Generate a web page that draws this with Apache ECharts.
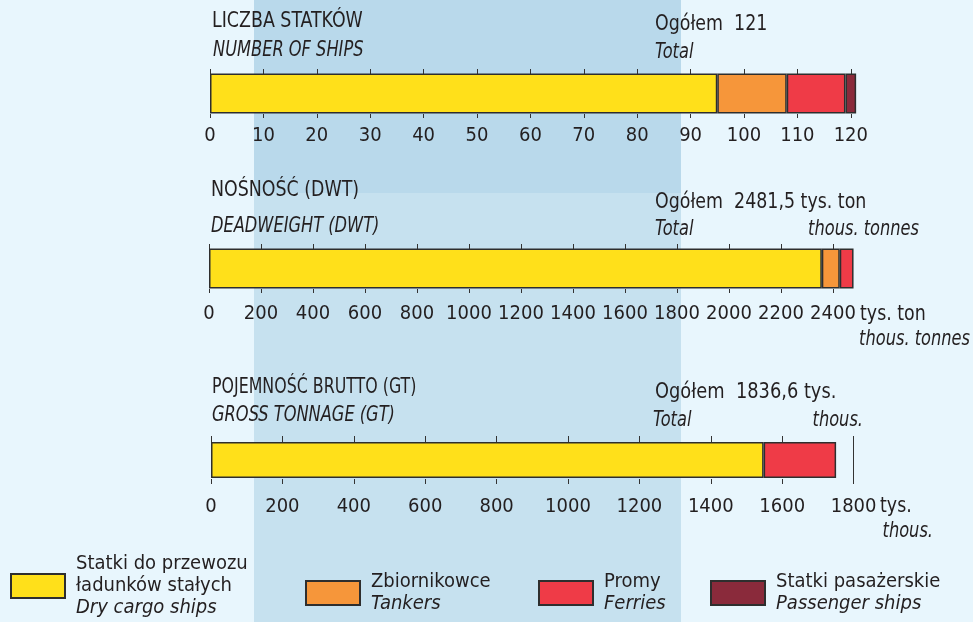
<!DOCTYPE html>
<html>
<head>
<meta charset="utf-8">
<script src="https://cdn.jsdelivr.net/npm/echarts@6/dist/echarts.min.js"></script>
<style>
  html, body { margin: 0; padding: 0; background: #e8f6fd; }
  #chart { width: 973px; height: 622px; }
</style>
</head>
<body>
<div id="chart"></div>
<script>
// dane
const shipTypes = ['Statki do przewozu\nładunków stałych', 'Zbiornikowce', 'Promy', 'Statki pasażerskie'];
const shipTypesEn = ['Dry cargo ships', 'Tankers', 'Ferries', 'Passenger ships'];
const shipCount = [95, 13, 11, 2];
const deadweight = [2357, 69, 53, null];
const grossTonnage = [1548, null, 203, null];
const countTicks = [0, 10, 20, 30, 40, 50, 60, 70, 80, 90, 100, 110, 120];
const dwtTicks = [0, 200, 400, 600, 800, 1000, 1200, 1400, 1600, 1800, 2000, 2200, 2400];
const gtTicks = [0, 200, 400, 600, 800, 1000, 1200, 1400, 1600, 1800];
const totals = ['121', '2481,5', '1836,6'];

const colors = ['#ffe01a', '#f6963a', '#ef3b47', '#8a2a3b'];
const FONT = '"DejaVu Sans Condensed", "Liberation Sans Narrow", sans-serif';
const TXT = '#231f20';

const myChart = echarts.init(document.getElementById('chart'));

// układ trzech wykresów
const panels = [
  { data: shipCount, ticks: countTicks, max: 125, left: 210, width: 667.5, top: 69, height: 49, bar: 40, tick: [5, 4], margin: 8 },
  { data: deadweight, ticks: dwtTicks, max: 2500, left: 209, width: 650, top: 244, height: 49, bar: 40, tick: [5, 4], margin: 11 },
  { data: grossTonnage, ticks: gtTicks, max: 1800, left: 211, width: 642.6, top: 436, height: 48, bar: 36, tick: [7, 5], margin: 13 }
];

const grid = [], xAxis = [], yAxis = [], series = [];
panels.forEach((p, i) => {
  grid.push({ left: p.left, top: p.top, width: p.width, height: p.height });
  const base = {
    type: 'value', gridIndex: i, min: 0, max: p.max,
    axisLine: { show: false }, splitLine: { show: false }
  };
  // dolna oś z opisami
  xAxis.push(Object.assign({}, base, {
    position: 'bottom',
    axisTick: { show: true, inside: true, length: p.tick[1], customValues: p.ticks, lineStyle: { color: '#333', width: 1 } },
    axisLabel: {
      show: true, customValues: p.ticks, margin: p.margin, formatter: v => String(v),
      color: TXT, fontSize: 20, fontFamily: FONT
    }
  }));
  // górna oś - same kreski
  xAxis.push(Object.assign({}, base, {
    position: 'top',
    axisTick: { show: true, inside: true, length: p.tick[0], customValues: p.ticks, lineStyle: { color: '#333', width: 1 } },
    axisLabel: { show: false }
  }));
  yAxis.push({ type: 'category', gridIndex: i, data: [''], show: false });
  shipTypes.forEach((name, k) => {
    const s = {
      name: name, type: 'bar', stack: 'p' + i,
      xAxisIndex: i * 2, yAxisIndex: i,
      barWidth: p.bar,
      data: [p.data[k]],
      itemStyle: { color: colors[k], borderColor: '#2e2e2e', borderWidth: 1.5 },
      silent: true
    };
    if (i === 2 && k === 0) {
      s.markLine = {
        symbol: 'none', silent: true, label: { show: false },
        lineStyle: { color: '#333', type: 'solid', width: 1 },
        data: [{ xAxis: gtTicks[gtTicks.length - 1] }]
      };
    }
    series.push(s);
  });
});

// napisy - czcionka zwężona przez scaleX
function txt(x, y, text, italic, align, sx) {
  return {
    type: 'text', x: x, y: y, z: 50,
    scaleX: sx || (italic ? 0.82 : 0.88),
    style: {
      text: text, fill: TXT, fontSize: 22, fontFamily: FONT,
      fontStyle: italic ? 'italic' : 'normal', verticalAlign: 'middle',
      align: align || 'left'
    }
  };
}

const graphic = [
  // tło
  { type: 'rect', z: -10, shape: { x: 254, y: 0, width: 427, height: 193 }, style: { fill: '#b9d9eb' } },
  { type: 'rect', z: -10, shape: { x: 254, y: 193, width: 427, height: 429 }, style: { fill: '#c6e1ef' } },
  // wykres 1
  txt(212, 21, 'LICZBA STATKÓW'),
  txt(213, 50, 'NUMBER OF SHIPS', true),
  txt(655, 24, 'Ogółem  ' + totals[0]),
  txt(655, 52, 'Total', true),
  // wykres 2
  txt(211, 190, 'NOŚNOŚĆ (DWT)'),
  txt(211, 226, 'DEADWEIGHT (DWT)', true),
  txt(655, 202, 'Ogółem  ' + totals[1] + ' tys. ton'),
  txt(655, 229, 'Total', true),
  txt(919, 229, 'thous. tonnes', true, 'right'),
  txt(860, 314, 'tys. ton'),
  txt(970, 339, 'thous. tonnes', true, 'right'),
  // wykres 3
  txt(212, 387, 'POJEMNOŚĆ BRUTTO (GT)', false, 'left', 0.8),
  txt(212, 415, 'GROSS TONNAGE (GT)', true),
  txt(655, 392, 'Ogółem  ' + totals[2] + ' tys.', false, 'left', 0.9),
  txt(653, 420, 'Total', true),
  txt(863, 420, 'thous.', true, 'right'),
  txt(880, 506, 'tys.'),
  txt(933, 531, 'thous.', true, 'right')
];

// legenda
const legendLeft = [10, 305, 538, 710];
const legendTop = [554, 572, 572, 572];
const legend = shipTypes.map((name, k) => ({
  data: [name], left: legendLeft[k], top: legendTop[k], padding: 0,
  orient: 'horizontal', icon: 'rect', itemWidth: 54, itemHeight: 24,
  selectedMode: false,
  textStyle: {
    rich: {
      a: { fontSize: 20, fontFamily: FONT, color: TXT, lineHeight: 22, padding: [0, 0, 0, 6] },
      b: { fontSize: 20, fontFamily: FONT, color: TXT, lineHeight: 22, fontStyle: 'italic', padding: [0, 0, 0, 6] }
    }
  },
  formatter: n => n.split('\n').map(l => '{a|' + l + '}').join('\n') + '\n{b|' + shipTypesEn[k] + '}'
}));

const option = {
  backgroundColor: '#e8f6fd',
  animation: false,
  grid, xAxis, yAxis, series, graphic, legend
};
myChart.setOption(option);
</script>
</body>
</html>
